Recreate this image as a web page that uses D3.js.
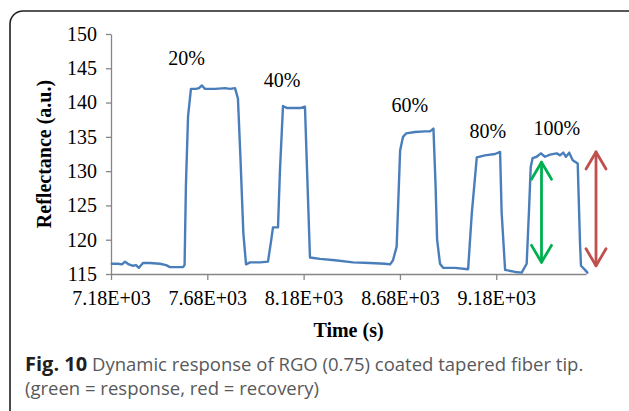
<!DOCTYPE html>
<html>
<head>
<meta charset="utf-8">
<script src="https://cdn.jsdelivr.net/npm/d3@7"></script>
<style>
  body { margin: 0; background: #fff; }
  svg { display: block; }
</style>
</head>
<body>
<div id="container"></div>
<script>
// time (s) and reflectance (a.u.)
const times = [7184, 7216, 7237, 7253, 7273, 7294, 7310, 7325, 7346, 7382, 7434, 7466, 7486, 7554, 7562, 7569, 7580,
  7595, 7621, 7637, 7652, 7668, 7720, 7772, 7798, 7824, 7839, 7852, 7867, 7881, 7902, 7954, 7995, 8011, 8021, 8047,
  8057, 8073, 8094, 8161, 8187, 8198, 8213, 8265, 8343, 8436, 8524, 8603, 8629, 8644, 8663, 8681, 8696, 8712, 8758,
  8810, 8836, 8854, 8865, 8873, 8888, 8904, 8966, 9034, 9053, 9079, 9121, 9174, 9200, 9208, 9226, 9278, 9312, 9338,
  9350, 9359, 9369, 9390, 9412, 9433, 9459, 9494, 9511, 9528, 9542, 9559, 9577, 9603, 9615, 9620, 9641, 9653];
const reflectance = [116.5, 116.5, 116.4, 116.8, 116.4, 116.2, 116.3, 115.9, 116.6, 116.6, 116.5, 116.3, 116.0, 116.0, 116.3, 128, 138,
  142.0, 142.0, 142.1, 142.5, 142.0, 142.0, 142.1, 142.0, 142.1, 140.6, 132, 121, 116.4, 116.7, 116.7, 116.8, 119.8, 121.8, 121.8,
  130, 139.5, 139.2, 139.2, 139.4, 130, 117.4, 117.2, 117.0, 116.7, 116.6, 116.5, 116.4, 117, 119, 133, 135, 135.5, 135.7,
  135.8, 135.8, 136.2, 128, 120, 116.5, 115.9, 115.9, 115.7, 123.8, 132.0, 132.3, 132.5, 132.8, 124, 115.6, 115.3, 115.2, 116.5,
  124.2, 130.6, 131.9, 132.1, 132.6, 132.1, 132.4, 132.6, 132.3, 132.7, 132.1, 132.7, 131.6, 131.1, 119.4, 116.2, 115.6, 115.2];

const xTicks = [7180, 7680, 8180, 8680, 9180];
const xTickLabels = ["7.18E+03", "7.68E+03", "8.18E+03", "8.68E+03", "9.18E+03"];
const yTicks = [115, 120, 125, 130, 135, 140, 145, 150];

// concentration labels: text, time, value of baseline
const labelText = ["20%", "40%", "60%", "80%", "100%"];
const labelTime = [7572, 8068, 8732, 9137, 9495];
const labelValue = [145.5, 142.2, 138.6, 134.8, 135.2];

// response (green) and recovery (red) arrows: time, from, to
const arrowTime = [9415, 9698];
const arrowFrom = [116.7, 116.2];
const arrowTo = [131.3, 132.8];
const arrowColor = ["#00b050", "#c0504d"];

const width = 629;
const height = 411;
const marginTop = 34;
const marginLeft = 111;
const axisRight = 586;
const axisBottom = 274;

const data = times.map((t, i) => ({time: t, value: reflectance[i]}));

const x = d3.scaleLinear([7180, 9646], [marginLeft, axisRight]);
const y = d3.scaleLinear([115, 150], [axisBottom, marginTop]);

const svg = d3.create("svg")
  .attr("width", width)
  .attr("height", height);

// frame around figure + caption
svg.append("rect")
  .attr("x", 10).attr("y", 11)
  .attr("width", 640).attr("height", 420)
  .attr("rx", 13)
  .attr("fill", "none")
  .attr("stroke", "#231f20")
  .attr("stroke-width", 1.6);

const gx = svg.append("g")
  .attr("transform", `translate(0,${axisBottom})`)
  .call(d3.axisBottom(x).tickValues(xTicks).tickFormat((d, i) => xTickLabels[i])
    .tickSizeInner(6).tickSizeOuter(0).tickPadding(11));

const gy = svg.append("g")
  .attr("transform", `translate(${marginLeft},0)`)
  .call(d3.axisLeft(y).tickValues(yTicks).tickSizeInner(5).tickSizeOuter(0).tickPadding(9));

[gx, gy].forEach(g => {
  g.selectAll("path, line").attr("stroke", "#868686").attr("stroke-width", 1.3);
  g.selectAll("text")
    .attr("fill", "#000")
    .style("font-family", "'Liberation Serif', 'Times New Roman', serif")
    .style("font-size", "20px");
});

svg.append("text")
  .attr("x", (marginLeft + axisRight) / 2)
  .attr("y", 337)
  .attr("text-anchor", "middle")
  .style("font-family", "'Liberation Serif', 'Times New Roman', serif")
  .style("font-size", "20px")
  .style("font-weight", "bold")
  .text("Time (s)");

svg.append("text")
  .attr("transform", `translate(51,${(marginTop + axisBottom) / 2}) rotate(-90)`)
  .attr("text-anchor", "middle")
  .style("font-family", "'Liberation Serif', 'Times New Roman', serif")
  .style("font-size", "20px")
  .style("font-weight", "bold")
  .text("Reflectance (a.u.)");

const line = d3.line().x(d => x(d.time)).y(d => y(d.value));

svg.append("path")
  .attr("fill", "none")
  .attr("stroke", "#4a7ebb")
  .attr("stroke-width", 2.4)
  .attr("stroke-linejoin", "round")
  .attr("stroke-linecap", "round")
  .attr("d", line(data));

svg.append("g")
  .selectAll("text")
  .data(labelText)
  .join("text")
  .attr("x", (d, i) => x(labelTime[i]))
  .attr("y", (d, i) => y(labelValue[i]))
  .attr("text-anchor", "middle")
  .style("font-family", "'Liberation Serif', 'Times New Roman', serif")
  .style("font-size", "20px")
  .text(d => d);

// double-headed arrows
const head = 10, headLen = 17;
arrowTime.forEach((t, i) => {
  const ax = x(t), y1 = y(arrowTo[i]), y2 = y(arrowFrom[i]);
  const g = svg.append("g")
    .attr("fill", "none")
    .attr("stroke", arrowColor[i])
    .attr("stroke-width", 2.8)
    .attr("stroke-linecap", "round")
    .attr("stroke-linejoin", "round");
  g.append("line").attr("x1", ax).attr("x2", ax).attr("y1", y1).attr("y2", y2);
  g.append("polyline").attr("points", `${ax - head},${y1 + headLen} ${ax},${y1} ${ax + head},${y1 + headLen}`);
  g.append("polyline").attr("points", `${ax - head},${y2 - headLen} ${ax},${y2} ${ax + head},${y2 - headLen}`);
});

// caption
const cap = svg.append("g")
  .style("font-family", "'Open Sans', 'Noto Sans', sans-serif")
  .style("font-size", "18.5px");
const line1 = cap.append("text").attr("x", 25).attr("y", 371);
line1.append("tspan").attr("fill", "#231f20").style("font-weight", "bold").style("font-size", "20px").text("Fig. 10");
line1.append("tspan").attr("fill", "#58595b").text(" Dynamic response of RGO (0.75) coated tapered fiber tip.");
cap.append("text").attr("x", 25).attr("y", 395).attr("fill", "#58595b")
  .text("(green = response, red = recovery)");

container.append(svg.node());
</script>
</body>
</html>
